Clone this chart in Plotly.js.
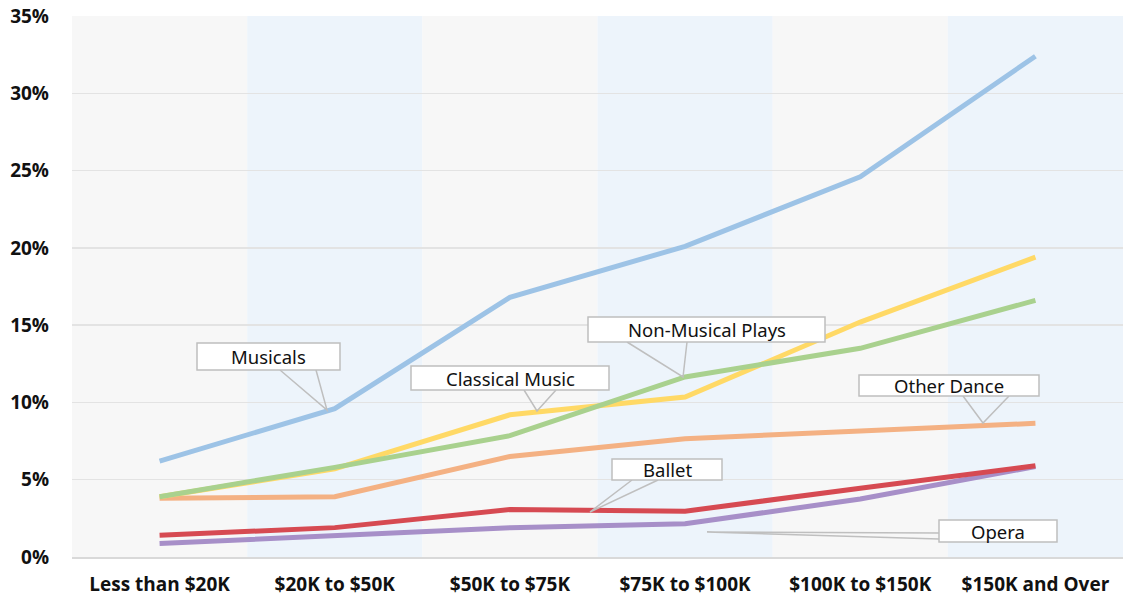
<!DOCTYPE html>
<html>
<head>
<meta charset="utf-8">
<script src="https://cdn.plot.ly/plotly-3.0.1.min.js"></script>
<style>html,body{margin:0;padding:0;background:#fff;}#chart{width:1123px;height:601px;}</style>
</head>
<body>
<div id="chart"></div>
<script>
const categories = ["Less than $20K", "$20K to $50K", "$50K to $75K", "$75K to $100K", "$100K to $150K", "$150K and Over"];
const musicals = [6.2, 9.6, 16.8, 20.1, 24.6, 32.4];
const classicalMusic = [3.9, 5.7, 9.2, 10.35, 15.2, 19.4];
const nonMusicalPlays = [3.9, 5.8, 7.85, 11.65, 13.5, 16.6];
const otherDance = [3.8, 3.9, 6.5, 7.65, 8.15, 8.65];
const ballet = [1.4, 1.9, 3.07, 2.96, 4.45, 5.9];
const opera = [0.87, 1.4, 1.9, 2.15, 3.75, 5.85];
const yTicks = [0, 5, 10, 15, 20, 25, 30, 35];
const yTickText = ["0%", "5%", "10%", "15%", "20%", "25%", "30%", "35%"];

const xIdx = categories.map((c, i) => i);

function line(name, y, color) {
  return {type: 'scatter', mode: 'lines', name: name, x: xIdx, y: y,
    line: {color: color, width: 5}, hoverinfo: 'name+y'};
}

const traces = [
  line('Opera', opera, '#a78fc8'),
  line('Ballet', ballet, '#d64a52'),
  line('Other Dance', otherDance, '#f4b183'),
  line('Classical Music', classicalMusic, '#ffd966'),
  line('Non-Musical Plays', nonMusicalPlays, '#a9d18e'),
  line('Musicals', musicals, '#9dc3e6')
];

// pixel helpers for callout boxes (plot area: x 72..1123, y 16..557)
const L = 72, R = 1123, T = 16, B = 557;
const px2x = p => (p - L) / ((R - L) / 6) - 0.5;
const py2y = p => (B - p) / ((B - T) / 35);

const shapes = [];
categories.forEach((c, i) => {
  shapes.push({type: 'rect', xref: 'x', yref: 'paper', x0: i - 0.5, x1: i + 0.5, y0: 0, y1: 1,
    fillcolor: i % 2 === 0 ? '#f7f7f7' : '#edf4fb', line: {width: 0}, layer: 'below'});
});

const callouts = [
  {text: 'Musicals', box: [197, 343, 340, 370], w1: [280, 370], w2: [316, 370], tip: [327, 410]},
  {text: 'Classical Music', box: [411, 366, 609, 390], w1: [524, 390], w2: [556, 390], tip: [537, 411]},
  {text: 'Non-Musical Plays', box: [588, 317, 825, 342], w1: [627, 342], w2: [687, 342], tip: [683, 377]},
  {text: 'Other Dance', box: [859, 375, 1039, 396], w1: [963, 396], w2: [1009, 396], tip: [983, 423]},
  {text: 'Ballet', box: [612, 459, 722, 480], w1: [632, 480], w2: [658, 480], tip: [590, 512]},
  {text: 'Opera', box: [939, 520, 1057, 542], w1: [939, 533], w2: [939, 539], tip: [707, 532]}
];

const annotations = [];
callouts.forEach(c => {
  const [x0, y0, x1, y1] = c.box;
  const path = 'M ' + px2x(c.w1[0]) + ',' + py2y(c.w1[1]) + ' L ' + px2x(c.tip[0]) + ',' + py2y(c.tip[1]) +
    ' L ' + px2x(c.w2[0]) + ',' + py2y(c.w2[1]);
  shapes.push({type: 'path', xref: 'x', yref: 'y', path: path, line: {color: '#bfbfbf', width: 1.5}, layer: 'above'});
  shapes.push({type: 'rect', xref: 'x', yref: 'y', x0: px2x(x0), x1: px2x(x1), y0: py2y(y1), y1: py2y(y0),
    fillcolor: '#ffffff', line: {color: '#bfbfbf', width: 1.5}, layer: 'above'});
  annotations.push({xref: 'x', yref: 'y', x: px2x((x0 + x1) / 2), y: py2y((y0 + y1) / 2),
    text: c.text, showarrow: false, font: {family: 'Noto Sans, Open Sans, sans-serif', size: 18.5, color: '#111'}});
});

const layout = {
  width: 1123, height: 601,
  margin: {l: 72, r: 0, t: 16, b: 44, pad: 0},
  paper_bgcolor: '#ffffff', plot_bgcolor: '#ffffff',
  showlegend: false,
  xaxis: {range: [-0.5, 5.5], tickvals: xIdx, ticktext: categories, showgrid: false, zeroline: false,
    showline: true, linecolor: '#d9d9d9', linewidth: 1.5, ticks: '', ticklabelstandoff: 10,
    tickfont: {family: 'Open Sans, Noto Sans, sans-serif', size: 19, color: '#111'}},
  yaxis: {range: [0, 35], tickvals: yTicks, ticktext: yTickText, showgrid: true, gridcolor: '#e3e3e3', gridwidth: 1.5,
    zeroline: false, showline: false, ticks: '', ticklabelstandoff: 22,
    tickfont: {family: 'Open Sans, Noto Sans, sans-serif', size: 19, color: '#111'}},
  shapes: shapes,
  annotations: annotations
};

Plotly.newPlot('chart', traces, layout, {displayModeBar: false, staticPlot: true}).then(() => {
  document.querySelectorAll('.xtick text, .ytick text').forEach(t => t.style.fontWeight = 'bold');
});
</script>
</body>
</html>
